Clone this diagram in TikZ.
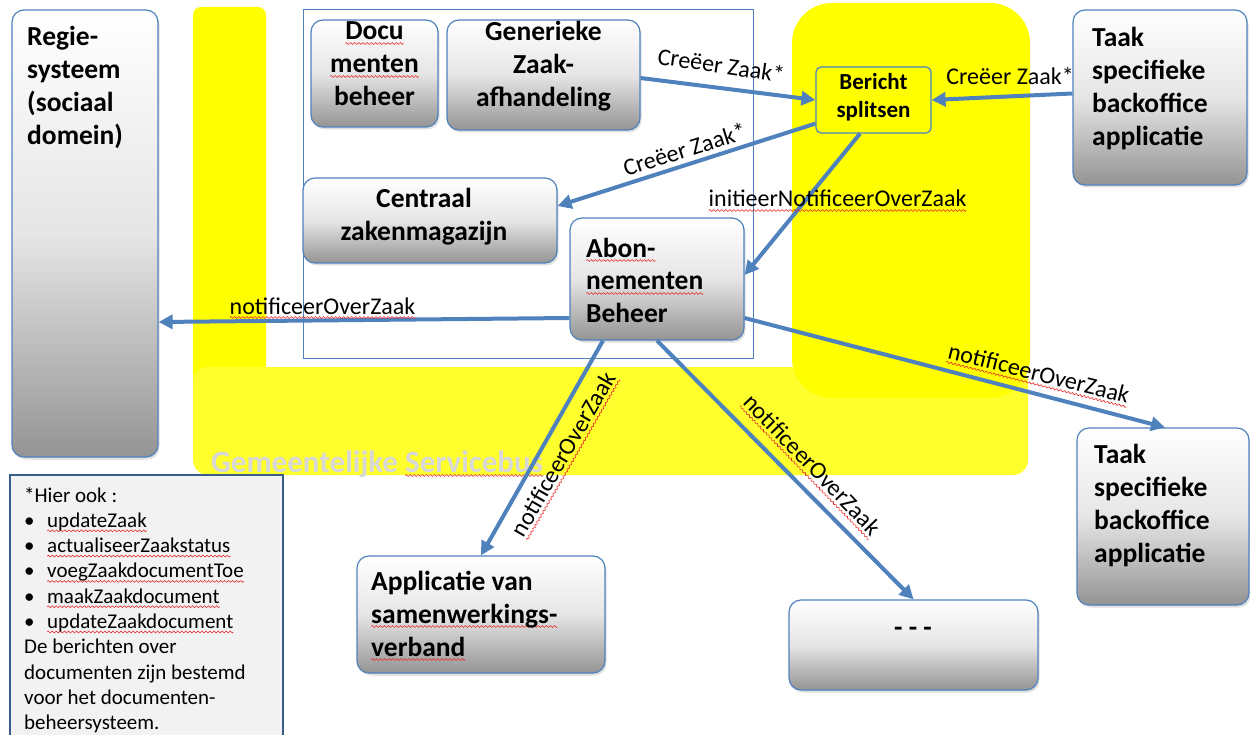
\documentclass[tikz,border=0pt]{standalone}
\usepackage{fontspec}
\setmainfont{Carlito}
\usetikzlibrary{arrows.meta,shadows,calc}
\definecolor{bblue}{RGB}{79,129,189}
\definecolor{nblue}{RGB}{56,93,138}
\definecolor{ylwA}{RGB}{255,255,0}
\definecolor{ylwB}{RGB}{255,255,45}
\definecolor{notefill}{RGB}{242,242,242}
\definecolor{gemtxt}{RGB}{216,216,216}
\definecolor{squigred}{RGB}{235,40,40}
\newcommand\wavepiece{\tikz[baseline=0pt]{\useasboundingbox (0pt,-1pt) rectangle (4pt,1pt);\draw[squigred, line width=0.6pt] (0pt,0pt) sin (1pt,0.9pt) cos (2pt,0pt) sin (3pt,-0.9pt) cos (4pt,0pt);}}
\newcommand\redwave[1]{\setbox0\hbox{#1}\rlap{\raisebox{-3.5pt}{\hbox to\wd0{\xleaders\hbox{\wavepiece}\hfill}}}#1}
\begin{document}
\begin{tikzpicture}[x=1pt,y=-1pt,
  box/.style={draw=bblue, line width=1.2pt, rounded corners=12pt, top color=white, bottom color=black!42, middle color=black!10, drop shadow={opacity=0.25,shadow xshift=1.5pt,shadow yshift=-2.5pt}, inner sep=0pt},
  btxt/.style={font=\bfseries\fontsize{27.5}{33}\selectfont, inner sep=0pt},
  ltxt/.style={font=\fontsize{24}{29}\selectfont, inner sep=0pt},
  conn/.style={draw=bblue, line width=4pt, -{Triangle[length=14pt,width=14pt]}},
]
\useasboundingbox (0,0) rectangle (1250,735);
% yellow service bus
\fill[ylwA, rounded corners=8pt] (193,7) rectangle (266,411);
\fill[ylwB, rounded corners=15pt] (193,367) rectangle (1028,475);
\fill[ylwA, rounded corners=40pt] (792,3) rectangle (1030,398);
\node[font=\bfseries\fontsize{31}{36}\selectfont, text=gemtxt, inner sep=0pt, anchor=base west] (gem) at (211,472) {Gemeentelijke \redwave{Servicebus}};
% frame
\draw[bblue, line width=1pt] (303,10) rectangle (753,358);
% boxes
\node[box, minimum width=146pt, minimum height=447pt] (regie) at (85,233.5) {};
\node[box, minimum width=127pt, minimum height=107pt] (docu) at (374.5,73.5) {};
\node[box, minimum width=193pt, minimum height=110pt] (gen) at (543.5,75) {};
\node[box, minimum width=254pt, minimum height=85pt] (centr) at (430,220.5) {};
\node[box, minimum width=174pt, minimum height=122pt] (abon) at (657,279) {};
\node[draw=bblue, line width=1.2pt, fill=ylwA, rounded corners=5pt, minimum width=115pt, minimum height=66pt, inner sep=0pt] (bericht) at (873.5,100) {};
\node[box, minimum width=174pt, minimum height=175pt] (taak1) at (1160,97.5) {};
\node[box, minimum width=172pt, minimum height=177pt] (taak2) at (1163,516.5) {};
\node[box, minimum width=248pt, minimum height=117pt] (app) at (481,614.5) {};
\node[box, minimum width=249pt, minimum height=90pt] (dash) at (913.5,645) {};
\node[draw=nblue, line width=2.5pt, fill=notefill, minimum width=273pt, minimum height=275pt, inner sep=0pt] (note) at (146.5,612.5) {};
% connectors
\draw[conn] ([yshift=-3pt]gen.east) -- (bericht.west);
\draw[conn] ([yshift=4pt]taak1.west) -- (bericht.east);
\draw[conn] ([yshift=10pt]bericht.south west) -- ([yshift=14.5pt]centr.east);
\draw[conn] ([xshift=-13.5pt]bericht.south) -- ([yshift=4pt]abon.east);
\draw[conn] ([yshift=-39pt]abon.west) -- ([yshift=-88.5pt]regie.east);
\draw[conn] ([yshift=-39pt]abon.east) -- ([xshift=2pt]taak2.north);
\draw[conn] ([xshift=-54pt]abon.south) -- (app.north);
\draw[conn] (abon.south) -- (dash.north);
% box texts (base anchor = baseline of the last line)
\node[btxt, anchor=base west, align=left] (regieT) at (27,145) {Regie-\\systeem\\(sociaal\\domein)};
\node[btxt, anchor=base, align=center] (docuT) at (374.5,106) {\redwave{Docu}\\\redwave{menten}\\beheer};
\node[btxt, anchor=base, align=center] (genT) at (543.5,107) {Generieke\\Zaak-\\afhandeling};
\node[btxt, anchor=base, align=center] (centrT) at (424,241) {Centraal\\zakenmagazijn};
\node[btxt, anchor=base west, align=left] (abonT) at (586,323) {\redwave{Abon-}\\\redwave{nementen}\\Beheer};
\node[font=\bfseries\fontsize{23}{28}\selectfont, inner sep=0pt, anchor=base, align=center] (berichtT) at (873.5,118) {Bericht\\splitsen};
\node[btxt, anchor=base west, align=left] (taak1T) at (1092,146) {Taak\\specifieke\\backoffice\\applicatie};
\node[btxt, anchor=base west, align=left] (taak2T) at (1094,562) {Taak\\specifieke\\backoffice\\applicatie};
\node[btxt, anchor=base west, align=left] (appT) at (371,656) {Applicatie van\\\redwave{samenwerkings-}\\\redwave{verband}};
\node[btxt, anchor=base] (dashT) at (913,636) {- - -};
\node[font=\fontsize{21}{25.3}\selectfont, inner sep=0pt, anchor=base west, align=left] (noteT) at (24,729.7) {*Hier ook :\\
\makebox[23pt][l]{•}\redwave{updateZaak}\\
\makebox[23pt][l]{•}\redwave{actualiseerZaakstatus}\\
\makebox[23pt][l]{•}\redwave{voegZaakdocumentToe}\\
\makebox[23pt][l]{•}\redwave{maakZaakdocument}\\
\makebox[23pt][l]{•}\redwave{updateZaakdocument}\\
De berichten over\\
documenten zijn bestemd\\
voor het documenten-\\
beheersysteem.};
% connector labels
\node[ltxt, anchor=base, rotate=-8.5] (la) at (720,73.5) {Creëer Zaak*};
\node[ltxt, anchor=base] (lb) at (1010,85) {Creëer Zaak*};
\node[ltxt, anchor=base, rotate=17.6] (lc) at (687,157.5) {Creëer Zaak*};
\node[ltxt, anchor=base] (ld) at (837.5,207) {\redwave{initieerNotificeerOverZaak}};
\node[ltxt, anchor=base] (le) at (322.5,314) {\redwave{notificeerOverZaak}};
\node[ltxt, anchor=base, rotate=-14] (lf) at (1037,381) {\redwave{notificeerOverZaak}};
\node[ltxt, rotate=60] (lg) at (565,455) {\redwave{notificeerOverZaak}};
\node[ltxt, rotate=-46] (lh) at (811,466) {\redwave{notificeerOverZaak}};
\end{tikzpicture}
\end{document}
